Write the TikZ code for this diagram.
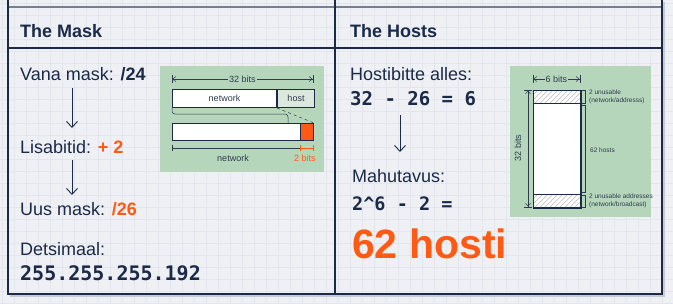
\documentclass[tikz,border=0pt]{standalone}
\usepackage{fontspec}
\setmainfont{Liberation Sans}
\newfontfamily\codefont{DejaVu Sans Mono}
\usepackage{xcolor}
\usepackage{tikz}
\usetikzlibrary{arrows.meta,positioning,calc}

\definecolor{navy}{HTML}{1B2A47}
\definecolor{accent}{HTML}{FF5A14}
\definecolor{boxgreen}{HTML}{B5D6BA}
\definecolor{hostfill}{HTML}{DCE8DD}
\definecolor{bgpaper}{HTML}{EEF0F4}
\definecolor{gridgray}{HTML}{E3E6EC}
\definecolor{ink}{HTML}{2F3B4D}

\tikzset{
    panel/.style={draw=navy, line width=1.4pt},
    title/.style={anchor=base west, inner sep=0pt, text=navy, font=\fontsize{18}{22}\selectfont\bfseries},
    body/.style={anchor=base west, inner sep=0pt, text=navy, font=\fontsize{18}{21}\selectfont},
    code/.style={anchor=base west, inner sep=0pt, text=navy, font=\codefont\fontsize{20}{24}\selectfont\bfseries},
    big/.style={anchor=base west, inner sep=0pt, text=accent, font=\fontsize{41}{46}\selectfont\bfseries},
    downarrow/.style={draw=navy, line width=0.9pt, -{Straight Barb[length=6pt,width=11pt]}},
    small/.style={inner sep=1pt, text=ink, font=\fontsize{9}{10}\selectfont},
    tiny/.style={anchor=west, inner sep=0pt, text=ink, align=left, font=\fontsize{6.5}{7.5}\selectfont},
    bitbox/.style={draw=navy, line width=1pt, fill=white, inner sep=0pt, text=ink, font=\fontsize{9}{10}\selectfont},
    dimline/.style={draw=ink, line width=0.5pt,
        {Bar[width=8pt]Straight Barb[length=3pt,width=5pt]}-{Straight Barb[length=3pt,width=5pt]Bar[width=8pt]}},
    hatch/.style={draw=gray!45, line width=0.7pt},
}

\begin{document}
\begin{tikzpicture}[x=1pt,y=-1pt]
\useasboundingbox (0,0) rectangle (673,303);

% paper and grid
\fill[bgpaper] (0,0) rectangle (673,303);
\foreach \x in {2,14,...,674} {
    \draw[gridgray, line width=0.4pt] (\x,0) -- (\x,303);
}
\foreach \y in {3,15,...,303} {
    \draw[gridgray, line width=0.4pt] (0,\y) -- (673,\y);
}

% panels
\draw[navy!60, line width=1.4pt] (8,7) -- (662,7);
\draw[navy!25, line width=1.5pt] (10,296) -- (664,296) -- (664,2);
\draw[panel] (8,0) -- (8,294) -- (662,294) -- (662,0);
\draw[panel] (335,0) -- (335,294);
\draw[panel] (8,48) -- (662,48);

% Left panel: the mask
\node[title] (masktitle) at (20,37) {The Mask};
\node[body] (vana) at (20,80) {Vana mask: \textbf{/24}};
\node[body] (lisa) at (20,153) {Lisabitid: \textbf{\textcolor{accent}{+ 2}}};
\node[body] (uus) at (20,215) {Uus mask: \textbf{\textcolor{accent}{/26}}};
\node[body] (dets) at (20,255) {Detsimaal:};
\node[code] (decimal) at (20,280) {255.255.255.192};

\draw[downarrow] ($(vana.base west)+(52,8)$) -- ($(lisa.base west)+(52,-25)$);
\draw[downarrow] ($(lisa.base west)+(52,7)$) -- ($(uus.base west)+(52,-20)$);

% Left picture: 32 bits split
\fill[boxgreen] (160,66) rectangle (324,172);
\draw[dimline] (172,79) -- (313,79) node[midway, fill=boxgreen, small] (span) {32 bits};
\node[bitbox, anchor=north west, minimum width=104pt, minimum height=18pt] (net) at (172,89) {network};
\node[bitbox, fill=hostfill, anchor=north west, minimum width=37pt, minimum height=18pt] (host) at (net.north east) {host};
\node[bitbox, anchor=north west, minimum width=141pt, minimum height=17pt] (newmask) at (172,123) {};
\node[draw=navy, line width=1pt, fill=accent, anchor=north east, minimum width=13pt, minimum height=17pt, inner sep=0pt] (extra) at (newmask.north east) {};
\draw[ink, line width=0.5pt, rounded corners=3pt] (net.south west) |- (288,114) -- (288,123);
\draw[ink, line width=0.5pt, dashed] (host.south west) -- (extra.north east);
\draw[ink, line width=0.6pt] (172,145) -- (172,151);
\draw[ink, line width=0.6pt] (172,148) -- (300,148);
\draw[accent, line width=0.6pt] (300,145) -- (300,151) (300,148) -- (313,148) (313,145) -- (313,151);
\node[small] (netlabel) at (233,158) {network};
\node[small, text=accent] (twobits) at (305,158) {2 bits};

% Right panel: the hosts
\node[title] (hoststitle) at (350,37) {The Hosts};
\node[body] (alles) at (350,80) {Hostibitte alles:};
\node[code, font=\codefont\fontsize{19}{22}\selectfont\bfseries] (diff) at (350,105) {32 - 26 = 6};
\node[body] (mahu) at (352,182) {Mahutavus:};
\node[code, font=\codefont\fontsize{18.5}{22}\selectfont\bfseries] (power) at (352,210) {2\string^6 - 2 =};
\node[big] (result) at (352,258) {62 hosti};

\draw[downarrow] ($(diff.base west)+(50,10)$) -- ($(mahu.base west)+(48,-30)$);

% Right picture: host block
\fill[boxgreen] (510,66) rectangle (651,217);
\draw[dimline] (533,79) -- (580,79) node[midway, fill=boxgreen, small] (sixbits) {6 bits};
\node[bitbox, anchor=north west, minimum width=47pt, minimum height=117pt] (block) at (533,90) {};
\begin{scope}
    \clip (533,90) rectangle (580,103) (533,194) rectangle (580,207);
    \foreach \k in {515,520,...,585} {
        \draw[hatch] (\k,103) -- ++(13,-13);
        \draw[hatch] (\k,207) -- ++(13,-13);
    }
\end{scope}
\draw[navy, line width=1pt] (block.north west) rectangle (block.south east);
\draw[navy, line width=1pt] (533,103) -- (580,103) (533,194) -- (580,194);
\draw[dimline] (528,90) -- (528,207);
\node[small, rotate=90] (tallbits) at (518,148) {32 bits};

% brackets and notes
\draw[ink, line width=0.5pt] (582,90) -- (585,90) -- (585,103) -- (582,103);
\draw[ink, line width=0.5pt] (582,105) -- (585,105) -- (585,192) -- (582,192);
\draw[ink, line width=0.5pt] (582,195) -- (585,195) -- (585,207) -- (582,207);
\node[tiny] (topnote) at (589,97) {2 unusable\\(network/addresss)};
\node[tiny] (midnote) at (590,150) {62 hosts};
\node[tiny] (botnote) at (589,201) {2 unusable addresses\\(network/broadcast)};

\end{tikzpicture}
\end{document}
